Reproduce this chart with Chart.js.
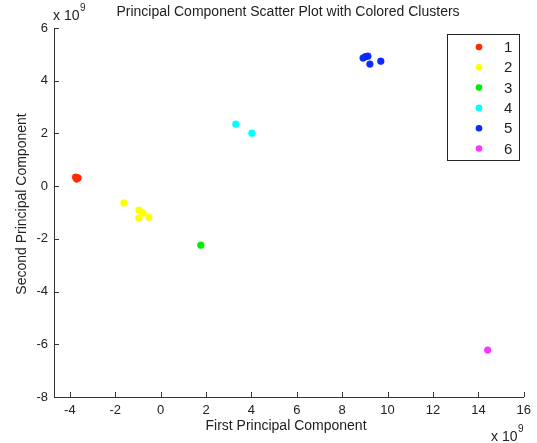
<!DOCTYPE html>
<html>
<head>
<meta charset="utf-8">
<script src="https://cdn.jsdelivr.net/npm/chart.js@4/dist/chart.umd.min.js"></script>
<style>
  html, body { margin: 0; padding: 0; background: #fff; }
  #wrap { width: 537px; height: 443px; }
</style>
</head>
<body>
<div id="wrap"><canvas id="pca"></canvas></div>
<script>
// values in units of 1e9
const clusterNames = ["1", "2", "3", "4", "5", "6"];
const clusterColors = ["#ff2a00", "#ffff00", "#00ee00", "#00ffff", "#0a2aff", "#ff33ff"];
const c1x = [-3.75, -3.64, -3.70];
const c1y = [0.34, 0.31, 0.27];
const c2x = [-1.62, -0.96, -0.78, -0.52, -0.96];
const c2y = [-0.64, -0.91, -1.02, -1.18, -1.21];
const c3x = [1.77];
const c3y = [-2.24];
const c4x = [3.31, 4.02];
const c4y = [2.35, 2.01];
const c5x = [8.92, 9.02, 9.13, 9.22, 9.70];
const c5y = [4.86, 4.91, 4.93, 4.63, 4.74];
const c6x = [14.41];
const c6y = [-6.22];
const xTicks = [-4, -2, 0, 2, 4, 6, 8, 10, 12, 14, 16];
const yTicks = [-8, -6, -4, -2, 0, 2, 4, 6];

const xs = [c1x, c2x, c3x, c4x, c5x, c6x];
const ys = [c1y, c2y, c3y, c4y, c5y, c6y];

const font = "Liberation Sans, Arial, sans-serif";
const axisColor = "#333";
const textColor = "#222";

const datasets = clusterNames.map((name, i) => ({
  label: name,
  data: xs[i].map((x, j) => ({ x: x, y: ys[i][j] })),
  backgroundColor: clusterColors[i],
  borderColor: clusterColors[i],
  pointRadius: 3.4,
  pointBorderWidth: 0.5,
}));

const extras = {
  id: "extras",
  afterDraw(chart) {
    const ctx = chart.ctx;
    const a = chart.chartArea;
    const sx = chart.scales.x;
    const sy = chart.scales.y;
    ctx.save();
    // inward ticks
    ctx.strokeStyle = axisColor;
    ctx.lineWidth = 1;
    ctx.beginPath();
    xTicks.forEach(v => {
      const px = Math.round(sx.getPixelForValue(v)) + 0.5;
      ctx.moveTo(px, a.bottom);
      ctx.lineTo(px, a.bottom - 5);
    });
    yTicks.forEach(v => {
      const py = Math.round(sy.getPixelForValue(v)) + 0.5;
      ctx.moveTo(a.left, py);
      ctx.lineTo(a.left + 5, py);
    });
    ctx.stroke();

    ctx.fillStyle = textColor;
    ctx.font = "14px " + font;
    ctx.textAlign = "center";
    ctx.textBaseline = "middle";
    ctx.fillText("Principal Component Scatter Plot with Colored Clusters", 288, 12);
    ctx.fillText("First Principal Component", 286, 426);
    ctx.save();
    ctx.translate(22, 204);
    ctx.rotate(-Math.PI / 2);
    ctx.fillText("Second Principal Component", 0, 0);
    ctx.restore();

    // exponent labels
    ctx.textAlign = "left";
    ctx.fillText("x 10", 53, 16);
    ctx.fillText("x 10", 491, 437);
    ctx.font = "10px " + font;
    ctx.fillText("9", 80, 8);
    ctx.fillText("9", 518, 429);

    // legend box
    const lx = 447.5, ly = 34.5, lw = 72, lh = 126;
    ctx.fillStyle = "#fff";
    ctx.fillRect(lx, ly, lw, lh);
    ctx.strokeStyle = "#222";
    ctx.strokeRect(lx, ly, lw, lh);
    ctx.font = "15px " + font;
    clusterNames.forEach((name, i) => {
      const cy = 47 + i * 20.3;
      ctx.fillStyle = clusterColors[i];
      ctx.beginPath();
      ctx.arc(479, cy, 3.3, 0, Math.PI * 2);
      ctx.fill();
      ctx.fillStyle = textColor;
      ctx.textAlign = "left";
      ctx.fillText(name, 504, cy + 1);
    });
    ctx.restore();
  },
};

new Chart(document.getElementById("pca"), {
  type: "scatter",
  data: { datasets: datasets },
  options: {
    responsive: true,
    maintainAspectRatio: false,
    animation: false,
    layout: { padding: { top: 28, right: 13, left: 0, bottom: 0 } },
    plugins: {
      legend: { display: false },
      tooltip: { enabled: false },
    },
    scales: {
      x: {
        type: "linear",
        min: -4.7,
        max: 16,
        grid: { display: false, drawTicks: false },
        border: { display: true, color: axisColor, width: 1 },
        ticks: { padding: 6, color: textColor, font: { family: font, size: 13 } },
        afterBuildTicks: s => { s.ticks = xTicks.map(v => ({ value: v })); },
        afterFit: s => { s.height = 46; },
      },
      y: {
        type: "linear",
        min: -8,
        max: 6,
        grid: { display: false, drawTicks: false },
        border: { display: true, color: axisColor, width: 1 },
        ticks: { padding: 6, color: textColor, font: { family: font, size: 13 } },
        afterBuildTicks: s => { s.ticks = yTicks.map(v => ({ value: v })); },
        afterFit: s => { s.width = 54; },
      },
    },
  },
  plugins: [extras],
});
</script>
</body>
</html>
